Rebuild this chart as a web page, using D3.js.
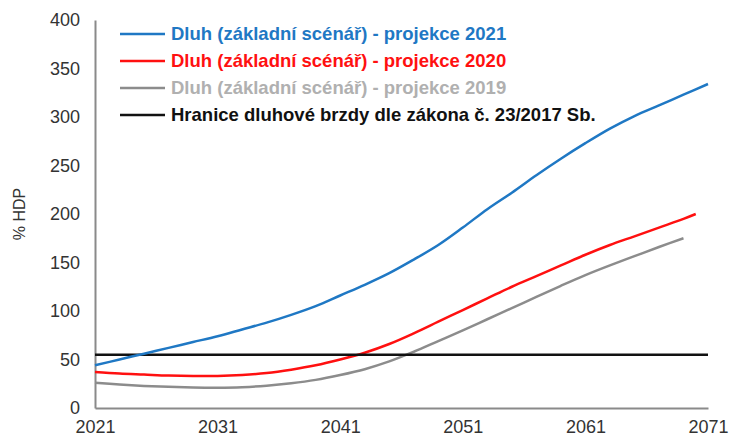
<!DOCTYPE html>
<html>
<head>
<meta charset="utf-8">
<script src="https://cdn.jsdelivr.net/npm/d3@7"></script>
<style>
  body { margin: 0; background: #fff; }
  text { font-family: "Liberation Sans", Arial, sans-serif; }
</style>
</head>
<body>
<div id="chart"></div>
<script>
    // data
    var years2021 = [2021, 2023, 2025, 2027, 2029, 2031, 2033, 2035, 2037, 2039, 2041, 2043, 2045, 2047, 2049, 2051, 2053, 2055, 2057, 2059, 2061, 2063, 2065, 2067, 2069, 2071];
    var debt2021 = [44, 50, 56, 62, 68, 74, 81, 88, 96, 105, 116, 127, 139, 153, 168, 186, 205, 222, 240, 257, 273, 288, 301, 312, 323, 334];

    var years2020 = [2021, 2023, 2025, 2027, 2029, 2031, 2033, 2035, 2037, 2039, 2041, 2043, 2045, 2047, 2049, 2051, 2053, 2055, 2057, 2059, 2061, 2063, 2065, 2067, 2069, 2070];
    var debt2020 = [37, 35.5, 34.5, 33.5, 33, 33, 34, 36, 39.5, 44, 50, 57, 66, 77, 89, 101, 113, 125, 136, 147, 158, 168, 177, 186, 195, 200];

    var years2019 = [2021, 2023, 2025, 2027, 2029, 2031, 2033, 2035, 2037, 2039, 2041, 2043, 2045, 2047, 2049, 2051, 2053, 2055, 2057, 2059, 2061, 2063, 2065, 2067, 2069];
    var debt2019 = [26, 24.2, 22.8, 21.8, 21.2, 21, 21.5, 23, 25.5, 29, 34, 40, 48, 58, 69, 80, 91.5, 103, 114.5, 126, 137, 147, 156.5, 166, 175];

    var brakeYears = [2021, 2071];
    var brakeLimit = [55, 55];

    var xTicks = [2021, 2031, 2041, 2051, 2061, 2071];
    var yTicks = [0, 50, 100, 150, 200, 250, 300, 350, 400];

    var legendLabels = [
        "Dluh (základní scénář) - projekce 2021",
        "Dluh (základní scénář) - projekce 2020",
        "Dluh (základní scénář) - projekce 2019",
        "Hranice dluhové brzdy dle zákona č. 23/2017 Sb."
    ];

    var svgWidth = 730;
    var svgHeight = 439;

    var margin = { top: 20, right: 22, bottom: 31, left: 95 };
    var width = svgWidth - margin.left - margin.right;
    var height = svgHeight - margin.top - margin.bottom;

    var svg = d3.select("#chart")
        .append("svg")
        .attr("width", svgWidth)
        .attr("height", svgHeight);

    var chartGroup = svg.append("g")
        .attr("transform", `translate(${margin.left}, ${margin.top})`);

    var xScale = d3.scaleLinear().domain([2021, 2071]).range([0, width]);
    var yScale = d3.scaleLinear().domain([0, 400]).range([height, 0]);

    // axes
    var bottomAxis = d3.axisBottom(xScale).tickValues(xTicks).tickFormat(d3.format("d")).tickSize(0).tickPadding(12);
    var leftAxis = d3.axisLeft(yScale).tickValues(yTicks).tickSize(0).tickPadding(15);

    var xAxisG = chartGroup.append("g")
        .attr("transform", `translate(0, ${height})`)
        .call(bottomAxis);
    var yAxisG = chartGroup.append("g").call(leftAxis);

    [xAxisG, yAxisG].forEach(function(g) {
        g.select(".domain").attr("stroke", "#8a8a8a").attr("stroke-width", 2);
        g.selectAll("text").attr("fill", "#333").style("font-size", "18px");
    });

    // y axis title
    svg.append("text")
        .attr("transform", `translate(25, ${margin.top + height / 2}) rotate(-90)`)
        .attr("text-anchor", "middle")
        .attr("fill", "#333")
        .style("font-size", "16px")
        .text("% HDP");

    // series
    var series = [
        { x: years2019, y: debt2019, color: "#8c8c8c", curve: d3.curveCatmullRom },
        { x: years2020, y: debt2020, color: "#ff1010", curve: d3.curveCatmullRom },
        { x: brakeYears, y: brakeLimit, color: "#111111", curve: d3.curveLinear },
        { x: years2021, y: debt2021, color: "#1f78c4", curve: d3.curveCatmullRom }
    ];

    series.forEach(function(s) {
        var pts = s.x.map(function(d, i) { return [d, s.y[i]]; });
        var line = d3.line()
            .x(d => xScale(d[0]))
            .y(d => yScale(d[1]))
            .curve(s.curve);
        chartGroup.append("path")
            .datum(pts)
            .attr("fill", "none")
            .attr("stroke", s.color)
            .attr("stroke-width", 2.5)
            .attr("d", line);
    });

    // legend
    var legendLine = ["#1f78c4", "#ff1010", "#8c8c8c", "#111111"];
    var legendText = ["#1f78c4", "#ff1010", "#b0b0b0", "#111111"];

    var legend = svg.append("g").attr("transform", "translate(120, 34)");
    legendLabels.forEach(function(lbl, i) {
        legend.append("line")
            .attr("x1", 0).attr("x2", 45)
            .attr("y1", i * 27).attr("y2", i * 27)
            .attr("stroke", legendLine[i])
            .attr("stroke-width", 2.5);
        legend.append("text")
            .attr("x", 51)
            .attr("y", i * 27)
            .attr("dy", "0.35em")
            .attr("fill", legendText[i])
            .style("font-size", "18.5px")
            .style("font-weight", "bold")
            .text(lbl);
    });
</script>
</body>
</html>
